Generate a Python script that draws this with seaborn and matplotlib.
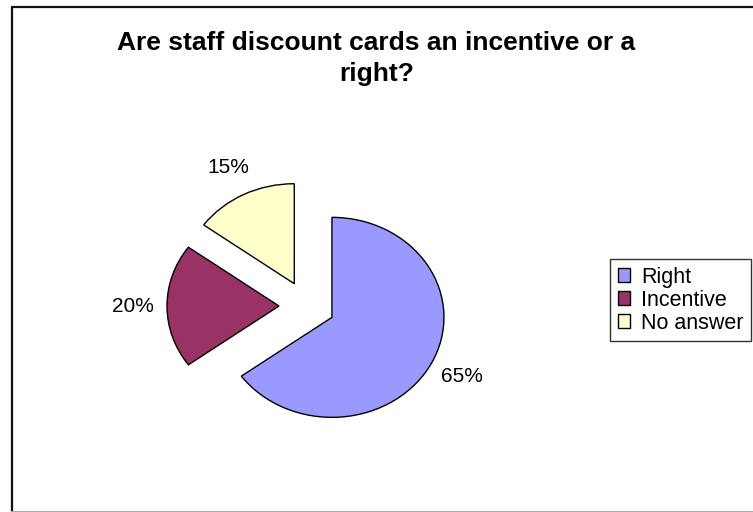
import matplotlib
matplotlib.use("Agg")
import matplotlib.pyplot as plt
import seaborn as sns
from matplotlib.lines import Line2D
from matplotlib.patches import Patch

# data
labels = ["Right", "Incentive", "No answer"]
shares = [65, 20, 15]
colors = ["#9999FF", "#993366", "#FFFFCC"]

sns.set_theme(style="white")
plt.rcParams['font.family'] = ['Liberation Sans', 'DejaVu Sans']
plt.rcParams['text.color'] = 'black'

fig = plt.figure(figsize=(7.53, 5.12), dpi=100)

# pie axes: 300x300 px box centred on the pie (307, 306); radius 112 px wide, 100 px tall
ax = fig.add_axes([157 / 753, (512 - 456) / 512, 300 / 753, 300 / 512])
wedges, texts, autotexts = ax.pie(
    shares,
    colors=colors,
    startangle=90,
    counterclock=False,
    explode=[0.25, 0.25, 0.25],
    autopct='%1.0f%%',
    pctdistance=1.3,
    wedgeprops=dict(edgecolor='black', linewidth=1),
    textprops=dict(fontsize=15, color='black'),
)
ax.set_aspect('auto')
ax.set_xlim(-150 / 112, 150 / 112)
ax.set_ylim(-1.5, 1.5)
ax.axis('off')

fig.text(0.5, 1 - 43 / 512, "Are staff discount cards an incentive or a",
         ha='center', va='center', fontsize=19, fontweight='bold', color='black')
fig.text(0.5, 1 - 74 / 512, "right?",
         ha='center', va='center', fontsize=19, fontweight='bold', color='black')

handles = [Patch(facecolor=c, edgecolor='black', linewidth=1) for c in colors]
leg = fig.legend(handles, labels, loc='upper left',
                 bbox_to_anchor=(610 / 753, 1 - 259 / 512),
                 frameon=True, fontsize=15.5, handlelength=0.6, handleheight=0.6,
                 handletextpad=0.5, borderpad=0.35, labelspacing=0.1,
                 fancybox=False, borderaxespad=0)
leg.get_frame().set_edgecolor('black')
leg.get_frame().set_linewidth(1)
for t in leg.get_texts():
    t.set_color('black')

# chart area border (left/top dark, bottom grey)
fig.add_artist(Line2D([11.5 / 753, 11.5 / 753], [0, 1 - 7 / 512], color='#111111', linewidth=1.6))
fig.add_artist(Line2D([11.5 / 753, 1], [1 - 7 / 512, 1 - 7 / 512], color='#111111', linewidth=1.6))
fig.add_artist(Line2D([11.5 / 753, 1], [0.5 / 512, 0.5 / 512], color='#aaaaaa', linewidth=1.5))

fig.savefig("out.png", dpi=100)
